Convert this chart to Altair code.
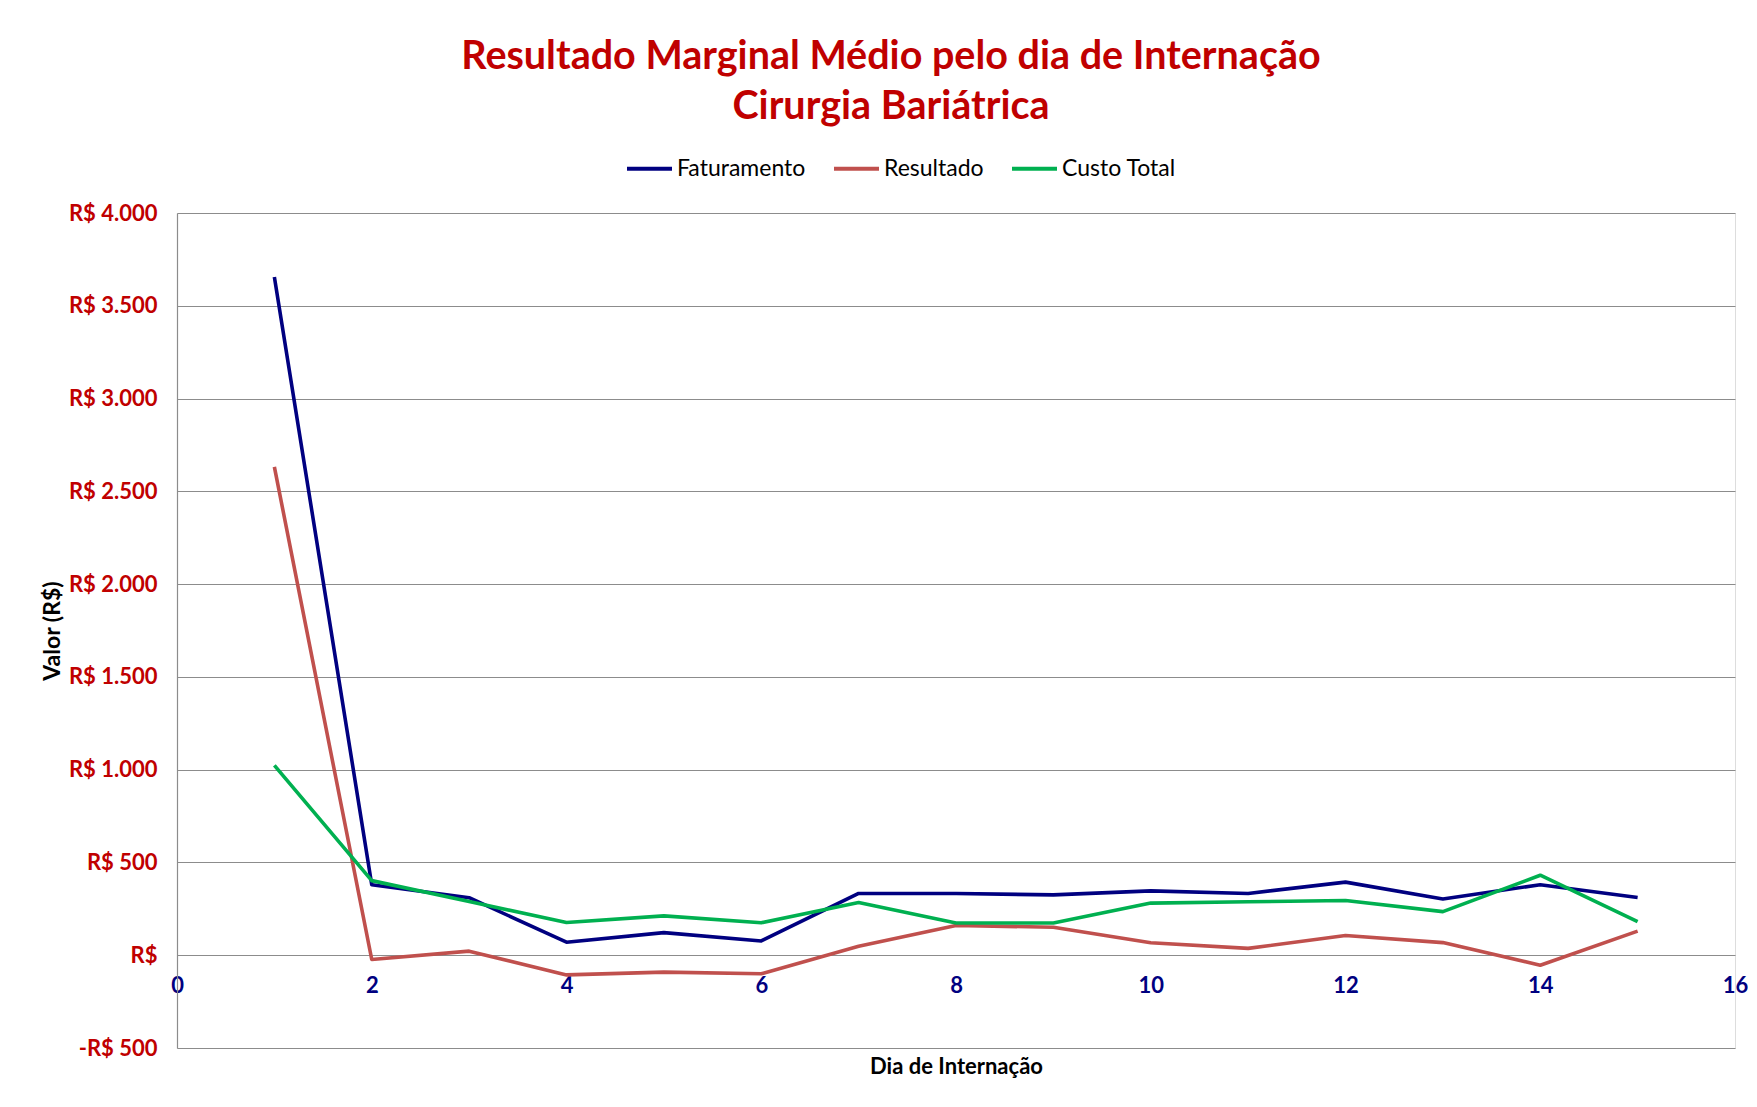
import altair as alt
import pandas as pd

dias = list(range(1, 16))
faturamento = [3655, 380, 310, 70, 122, 77, 333, 333, 325, 347, 333, 394, 303, 380, 311]
resultado = [2632, -23, 22, -106, -91, -100, 48, 160, 151, 67, 37, 106, 68, -54, 130]
custo_total = [1023, 402, 290, 176, 212, 175, 284, 174, 174, 281, 288, 295, 235, 431, 181]

series_names = ["Faturamento", "Resultado", "Custo Total"]
series_colors = ["#000080", "#C0504D", "#00B050"]

rows = []
for name, vals in zip(series_names, [faturamento, resultado, custo_total]):
    for d, v in zip(dias, vals):
        rows.append({"Dia": d, "Valor": v, "Serie": name, "ordem": series_names.index(name)})
df = pd.DataFrame(rows)

y_ticks = [-500, 0, 500, 1000, 1500, 2000, 2500, 3000, 3500, 4000]
x_ticks = [0, 2, 4, 6, 8, 10, 12, 14, 16]

label_expr = ("datum.value == 0 ? 'R$' : (datum.value < 0 ? '-R$ ' : 'R$ ') + "
              "replace(format(abs(datum.value), ',.0f'), ',', '.')")

chart = alt.Chart(df).mark_line(strokeWidth=3.6, strokeJoin="round").encode(
    x=alt.X("Dia:Q",
            scale=alt.Scale(domain=[0, 16], nice=False, zero=False),
            axis=alt.Axis(values=x_ticks, title="Dia de Internação", grid=False,
                          domain=False, ticks=False, offset=-92.8,
                          labelFont="Lato", labelFontSize=22, labelFontWeight="bold",
                          labelColor="#000080", labelPadding=20, labelFlush=False,
                          titleFont="Lato", titleFontSize=22, titleFontWeight="bold",
                          titleColor="#000000", titleY=111, titleBaseline="middle")),
    y=alt.Y("Valor:Q",
            scale=alt.Scale(domain=[-500, 4000], nice=False),
            axis=alt.Axis(values=y_ticks, title="Valor (R$)", labelExpr=label_expr,
                          grid=True, gridColor="#8C8C8C", gridWidth=1.2,
                          domain=True, domainColor="#8C8C8C", domainWidth=1.2,
                          ticks=False, labelPadding=20,
                          labelFont="Lato", labelFontSize=22, labelFontWeight="bold",
                          labelColor="#C00000",
                          titleFont="Lato", titleFontSize=23, titleFontWeight="bold",
                          titleColor="#000000", titleX=-125, titleY=417.5,
                          titleAngle=-90, titleAlign="center", titleBaseline="middle")),
    color=alt.Color("Serie:N",
                    scale=alt.Scale(domain=series_names, range=series_colors),
                    sort=series_names,
                    legend=alt.Legend(title=None, orient="none", direction="horizontal",
                                      legendX=448, legendY=-69,
                                      symbolType="stroke", symbolSize=2025,
                                      symbolStrokeWidth=4, labelFont="Lato",
                                      labelFontSize=23, labelColor="#000000",
                                      labelOffset=3, columnPadding=20)),
    order=alt.Order("ordem:Q"),
).properties(
    width=1558,
    height=835,
    padding={"left": 169, "top": 205, "right": 13, "bottom": 36},
    autosize=alt.AutoSizeParams(type="none"),
    title=alt.TitleParams(
        text=["Resultado Marginal Médio pelo dia de Internação", "Cirurgia Bariátrica"],
        font="Lato", fontSize=39.5, fontWeight="bold", color="#C00000",
        anchor="middle", dx=-65, lineHeight=50, offset=17),
).configure_view(stroke=None).configure(background="white")

chart.save("out.html", embed_options={"renderer": "svg", "actions": False})
